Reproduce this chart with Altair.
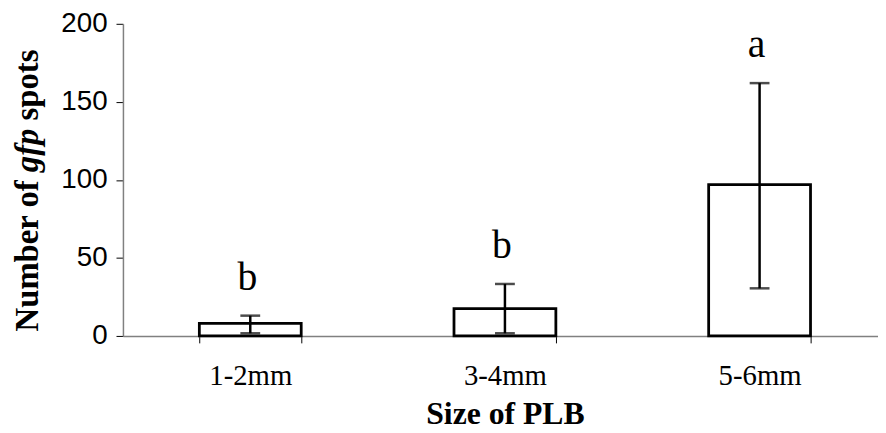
import altair as alt
import pandas as pd

sizes = ["1-2mm", "3-4mm", "5-6mm"]
means = [8.0, 17.5, 97.0]
lower = [1.7, 1.7, 30.5]
upper = [13.0, 33.3, 162.0]
letters = ["b", "b", "a"]

df = pd.DataFrame({"size": sizes, "mean": means, "lower": lower, "upper": upper, "letter": letters})

xenc = alt.X(
    "size:N",
    sort=sizes,
    scale=alt.Scale(range=[0, 771], paddingInner=0.6, paddingOuter=0.3),
    axis=alt.Axis(
        title="Size of PLB",
        labelAngle=0,
        tickBand="extent",
        labelFont="Liberation Serif",
        labelFontSize=29,
        labelColor="black",
        labelPadding=19,
        tickSize=7,
        tickColor="black",
        domainColor="#808080",
        domainWidth=1.5,
        titleFont="Liberation Serif",
        titleFontSize=32,
        titleFontWeight="bold",
        titleColor="black",
        titlePadding=8,
    ),
)

yscale = alt.Scale(domain=[0, 200])
yaxis = alt.Axis(
    values=[0, 50, 100, 150, 200],
    title=None,
    grid=False,
    labelFont="Liberation Sans",
    labelFontSize=28,
    labelColor="black",
    labelPadding=9,
    tickSize=7,
    tickColor="black",
    domainColor="#808080",
    domainWidth=1.5,
)

base = alt.Chart(df).encode(x=xenc)

bars = base.mark_bar(fill="white", stroke="black", strokeWidth=2.8).encode(
    y=alt.Y("mean:Q", scale=yscale, axis=yaxis)
)
err = base.mark_rule(color="black", strokeWidth=2.5).encode(y="lower:Q", y2="upper:Q")
cap_lo = base.mark_tick(color="black", thickness=2.5, size=20).encode(y="lower:Q")
cap_hi = base.mark_tick(color="black", thickness=2.5, size=20).encode(y="upper:Q")
labels = base.mark_text(
    font="Liberation Serif", fontSize=40, baseline="alphabetic", dy=-26, dx=-3, color="black"
).encode(y="upper:Q", text="letter:N")

tdf1 = pd.DataFrame({"t": ["Number of"]})
tdf2 = pd.DataFrame({"t": ["gfp"]})
tdf3 = pd.DataFrame({"t": ["spots"]})
tcommon = dict(font="Liberation Serif", fontSize=33, fontWeight="bold", angle=270, baseline="middle", color="black")
t1 = alt.Chart(tdf1).mark_text(align="right", **tcommon).encode(
    x=alt.value(-96), y=alt.value(158), text="t:N")
t2 = alt.Chart(tdf2).mark_text(align="left", fontStyle="italic", **tcommon).encode(
    x=alt.value(-96), y=alt.value(149.7), text="t:N")
t3 = alt.Chart(tdf3).mark_text(align="left", **tcommon).encode(
    x=alt.value(-96), y=alt.value(97.5), text="t:N")

chart = alt.layer(bars, err, cap_lo, cap_hi, labels, t1, t2, t3).properties(
    width=762,
    height=315,
    autosize=alt.AutoSizeParams(type="none"),
    padding={"left": 116, "top": 14, "right": 0, "bottom": 95},
    background="white",
).configure_view(stroke=None)

chart.save("out.html", embed_options={"renderer": "svg", "actions": False})
